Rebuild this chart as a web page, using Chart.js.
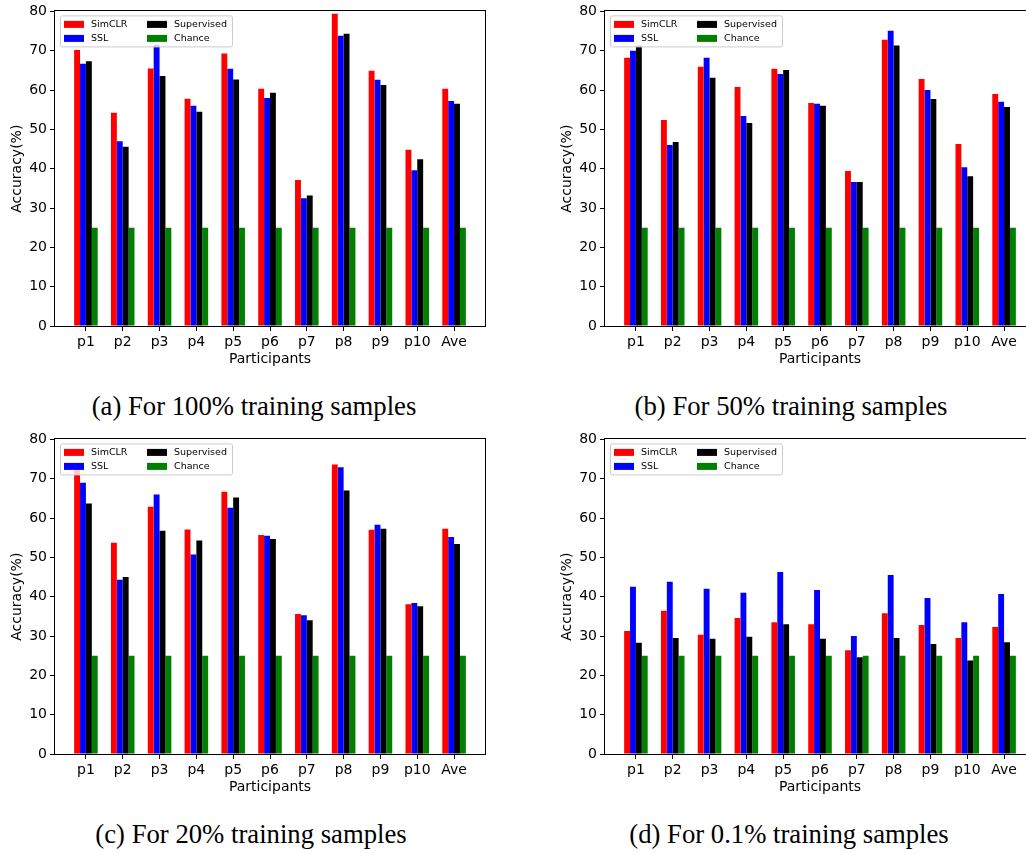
<!DOCTYPE html>
<html>
<head>
<meta charset="utf-8">
<script src="https://cdn.jsdelivr.net/npm/chart.js@4.4.1/dist/chart.umd.min.js"></script>
<style>
    html, body { margin: 0; padding: 0; background: #fff; overflow: hidden; }
    body { width: 1026px; height: 853px; position: relative; }
    canvas { position: absolute; }
    .cap {
        position: absolute;
        font-family: "Liberation Serif", "Times New Roman", serif;
        font-size: 26.7px;
        line-height: 26px;
        color: #000;
        white-space: nowrap;
        transform: translateX(-50%);
    }
</style>
</head>
<body>
<canvas id="chartA" width="500" height="368" style="left:0px;top:0px"></canvas>
<canvas id="chartB" width="500" height="368" style="left:550px;top:0px"></canvas>
<canvas id="chartC" width="500" height="368" style="left:0px;top:428px"></canvas>
<canvas id="chartD" width="500" height="368" style="left:550px;top:428px"></canvas>
<div class="cap" style="left:254px;top:393px">(a) For 100% training samples</div>
<div class="cap" style="left:791px;top:393px">(b) For 50% training samples</div>
<div class="cap" style="left:251px;top:821px">(c) For 20% training samples</div>
<div class="cap" style="left:789px;top:821px">(d) For 0.1% training samples</div>
<script>
// data
const participants = ['p1', 'p2', 'p3', 'p4', 'p5', 'p6', 'p7', 'p8', 'p9', 'p10', 'Ave']
const seriesNames = ['SimCLR', 'SSL', 'Supervised', 'Chance']
const seriesColors = ['#ff0000', '#0000ff', '#000000', '#008000']
const yTicks = [0, 10, 20, 30, 40, 50, 60, 70, 80]

const chance = [25, 25, 25, 25, 25, 25, 25, 25, 25, 25, 25]

// (a) 100% training samples
const simclr100 = [70.2, 54.2, 65.5, 57.8, 69.3, 60.3, 37.1, 79.4, 64.9, 44.8, 60.3]
const ssl100 = [66.7, 47.0, 71.5, 56.0, 65.4, 58.0, 32.5, 73.8, 62.6, 39.6, 57.2]
const sup100 = [67.3, 45.6, 63.6, 54.5, 62.7, 59.3, 33.2, 74.3, 61.3, 42.4, 56.5]

// (b) 50% training samples
const simclr50 = [68.2, 52.4, 65.9, 60.8, 65.4, 56.7, 39.4, 72.8, 62.8, 46.3, 59.0]
const ssl50 = [70.0, 46.0, 68.2, 53.4, 64.1, 56.5, 36.6, 75.1, 60.0, 40.4, 57.0]
const sup50 = [71.3, 46.8, 63.1, 51.6, 65.1, 56.0, 36.6, 71.3, 57.7, 38.1, 55.7]

// (c) 20% training samples
const simclr20 = [72.6, 53.7, 62.9, 57.1, 66.7, 55.7, 35.6, 73.6, 57.0, 38.1, 57.3]
const ssl20 = [69.0, 44.3, 66.0, 50.7, 62.6, 55.5, 35.3, 72.9, 58.3, 38.4, 55.2]
const sup20 = [63.7, 45.0, 56.8, 54.3, 65.2, 54.7, 34.0, 67.0, 57.3, 37.6, 53.4]

// (d) 0.1% training samples
const simclr01 = [31.3, 36.4, 30.3, 34.6, 33.5, 33.0, 26.4, 35.8, 32.8, 29.5, 32.3]
const ssl01 = [42.5, 43.8, 42.0, 41.0, 46.3, 41.7, 30.0, 45.5, 39.7, 33.5, 40.7]
const sup01 = [28.3, 29.5, 29.3, 29.8, 33.0, 29.3, 24.6, 29.5, 28.0, 23.8, 28.4]

const tickFont = { family: 'DejaVu Sans', size: 14 }

// black frame round the plot area (all four spines)
const framePlugin = {
    id: 'frame',
    afterDraw(chart) {
        const a = chart.chartArea
        const ctx = chart.ctx
        ctx.save()
        ctx.strokeStyle = '#000'
        ctx.lineWidth = 1
        ctx.strokeRect(Math.round(a.left) - 0.5, Math.round(a.top) - 0.5,
            Math.round(a.right - a.left) + 1, Math.round(a.bottom - a.top) + 1)
        ctx.restore()
    }
}

// matplotlib style legend: two columns, column-major order
const legendPlugin = {
    id: 'mplLegend',
    afterDatasetsDraw(chart) {
        const a = chart.chartArea
        const ctx = chart.ctx
        const x0 = a.left + 5
        const y0 = a.top + 4
        ctx.save()
        ctx.beginPath()
        if (ctx.roundRect) {
            ctx.roundRect(x0 + 0.5, y0 + 0.5, 172, 31, 2)
        } else {
            ctx.rect(x0 + 0.5, y0 + 0.5, 172, 31)
        }
        ctx.fillStyle = 'rgba(255,255,255,0.8)'
        ctx.fill()
        ctx.strokeStyle = '#cccccc'
        ctx.lineWidth = 1
        ctx.stroke()
        ctx.font = '9.5px "DejaVu Sans"'
        ctx.textBaseline = 'middle'
        ctx.fillStyle = '#000'
        const cols = [[0, 1], [2, 3]]
        for (let c = 0; c < cols.length; c++) {
            for (let r = 0; r < cols[c].length; r++) {
                const k = cols[c][r]
                const sx = x0 + 4 + c * 83
                const sy = y0 + 9 + r * 14
                ctx.fillStyle = seriesColors[k]
                ctx.fillRect(sx, sy - 3.5, 20, 7)
                ctx.fillStyle = '#000'
                ctx.fillText(seriesNames[k], sx + 27, sy)
            }
        }
        ctx.restore()
    }
}

function toPoints(values) {
    let pts = []
    for (let i = 0; i < values.length; i++) {
        pts.push({ x: i, y: values[i] })
    }
    return pts
}

function makeChart(id, simclr, ssl, sup) {
    const lists = [simclr, ssl, sup, chance]
    let datasets = []
    for (let i = 0; i < lists.length; i++) {
        datasets.push({
            label: seriesNames[i],
            data: toPoints(lists[i]),
            backgroundColor: seriesColors[i],
            borderWidth: 0,
            barPercentage: 1.0,
            categoryPercentage: 0.64
        })
    }
    const config = {
        type: 'bar',
        data: { datasets: datasets },
        options: {
            responsive: false,
            animation: false,
            devicePixelRatio: 1,
            layout: { padding: { top: 7, right: 15, left: 0, bottom: 0 } },
            plugins: { legend: { display: false }, tooltip: { enabled: false } },
            scales: {
                x: {
                    type: 'linear',
                    min: -0.84,
                    max: 10.84,
                    offset: false,
                    grid: { display: true, offset: false, drawOnChartArea: false, drawTicks: true, tickLength: 5, color: '#000' },
                    border: { display: false },
                    ticks: {
                        stepSize: 1,
                        includeBounds: false,
                        autoSkip: false,
                        maxRotation: 0,
                        padding: 3,
                        color: '#000',
                        font: tickFont,
                        callback: function (v) {
                            return Number.isInteger(v) ? participants[v] : ''
                        }
                    },
                    title: { display: true, text: 'Participants', color: '#000', font: tickFont, padding: 0 },
                    afterFit: function (s) { s.height = 42 }
                },
                y: {
                    min: 0,
                    max: 80,
                    afterBuildTicks: function (s) { s.ticks = yTicks.map(v => ({ value: v })) },
                    grid: { display: true, drawOnChartArea: false, drawTicks: true, tickLength: 5, color: '#000' },
                    border: { display: false },
                    ticks: { padding: 3, color: '#000', font: tickFont },
                    title: { display: true, text: 'Accuracy(%)', color: '#000', font: tickFont, padding: { top: 8.6, bottom: 0 } },
                    afterFit: function (s) { s.width = 55 }
                }
            }
        },
        plugins: [framePlugin, legendPlugin]
    }
    return new Chart(document.getElementById(id), config)
}

makeChart('chartA', simclr100, ssl100, sup100)
makeChart('chartB', simclr50, ssl50, sup50)
makeChart('chartC', simclr20, ssl20, sup20)
makeChart('chartD', simclr01, ssl01, sup01)
</script>
</body>
</html>
